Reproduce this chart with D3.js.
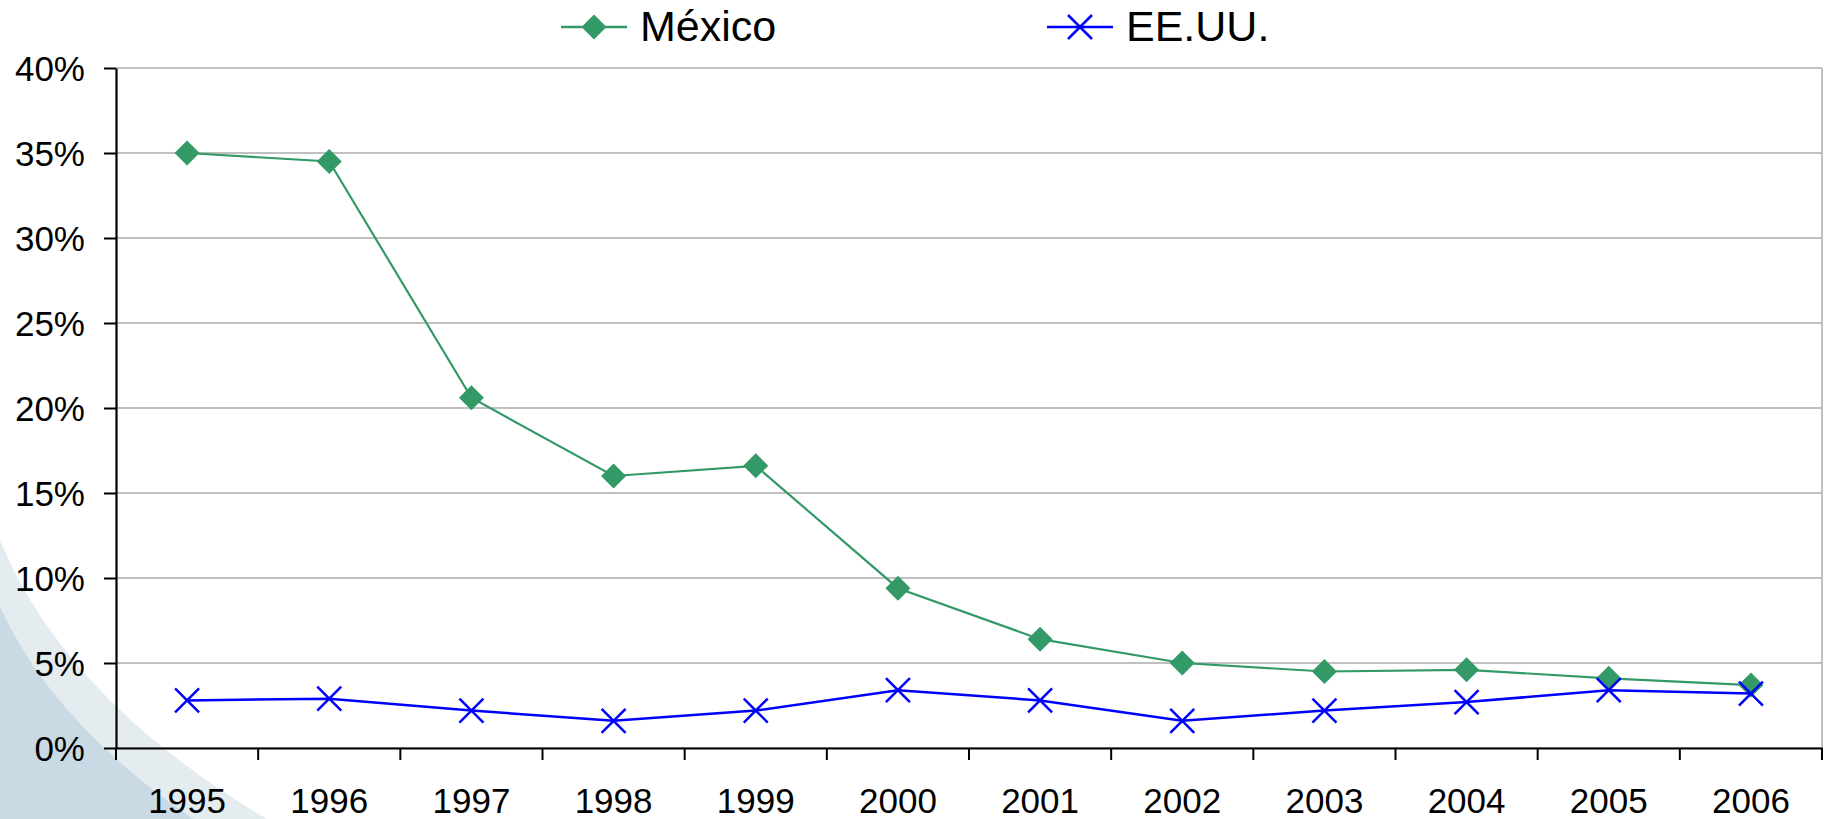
<!DOCTYPE html>
<html>
<head>
<meta charset="utf-8">
<script src="https://cdn.jsdelivr.net/npm/d3@7"></script>
<style>
	body { margin: 0; background: #fff; }
	svg { display: block; font-family: "Liberation Sans", Arial, sans-serif; }
</style>
</head>
<body>
<svg id="chart" width="1827" height="819"></svg>
<script>

var years = ["1995", "1996", "1997", "1998", "1999", "2000", "2001", "2002", "2003", "2004", "2005", "2006"];
var mexico = [0.350, 0.345, 0.206, 0.160, 0.166, 0.094, 0.064, 0.050, 0.045, 0.046, 0.041, 0.037];
var eeuu = [0.028, 0.029, 0.022, 0.016, 0.022, 0.034, 0.028, 0.016, 0.022, 0.027, 0.034, 0.032];
var yTicks = [0, 0.05, 0.10, 0.15, 0.20, 0.25, 0.30, 0.35, 0.40];
var seriesNames = ["México", "EE.UU."];

var svg = d3.select("#chart"),
	plotLeft = 116, plotRight = 1822, plotTop = 68, plotBottom = 748;

var x = d3.scaleBand().domain(years).range([plotLeft, plotRight]);
var y = d3.scaleLinear().domain([0, 0.4]).range([plotBottom, plotTop]);

// background swoosh, bottom left
var light = d3.path();
light.moveTo(0, 540);
light.quadraticCurveTo(66, 700, 267, 819);
light.lineTo(0, 819);
light.closePath();
svg.append("path").attr("d", light.toString()).attr("fill", "#e4ecf0");

var dark = d3.path();
dark.moveTo(0, 607);
dark.quadraticCurveTo(53, 723, 193, 819);
dark.lineTo(0, 819);
dark.closePath();
svg.append("path").attr("d", dark.toString()).attr("fill", "#c9dae4");

// gridlines
svg.append("g")
	.selectAll("line")
	.data(yTicks)
	.enter()
	.append("line")
	.attr("x1", plotLeft)
	.attr("x2", plotRight)
	.attr("y1", function(d) { return y(d); })
	.attr("y2", function(d) { return y(d); })
	.attr("stroke", "#c0c0c0")
	.attr("stroke-width", 2);

svg.append("line")
	.attr("x1", plotRight).attr("x2", plotRight)
	.attr("y1", plotTop).attr("y2", plotBottom)
	.attr("stroke", "#c0c0c0")
	.attr("stroke-width", 2);

// y axis
var yAxis = svg.append("g")
	.attr("transform", "translate(" + plotLeft + ",0)")
	.call(d3.axisLeft(y)
		.tickValues(yTicks)
		.tickFormat(d3.format(".0%"))
		.tickSize(12)
		.tickSizeOuter(0)
		.tickPadding(19));

// x axis - labels centred, ticks on the band edges
var xAxis = svg.append("g")
	.attr("transform", "translate(0," + plotBottom + ")")
	.call(d3.axisBottom(x)
		.tickSize(0)
		.tickSizeOuter(0)
		.tickPadding(40));

svg.append("g")
	.selectAll("line")
	.data(years.map(function(d) { return x(d); }).concat([plotRight]))
	.enter()
	.append("line")
	.attr("x1", function(d) { return d; })
	.attr("x2", function(d) { return d; })
	.attr("y1", plotBottom)
	.attr("y2", plotBottom + 12)
	.attr("stroke", "#000")
	.attr("stroke-width", 2);

[yAxis, xAxis].forEach(function(g) {
	g.selectAll(".domain").attr("stroke", "#000").attr("stroke-width", 2.2);
	g.selectAll(".tick line").attr("stroke", "#000").attr("stroke-width", 2);
	g.selectAll(".tick text")
		.attr("fill", "#000")
		.style("font-family", "'Liberation Sans', Arial, sans-serif")
		.style("font-size", "35px");
});
yAxis.selectAll(".tick text").attr("dy", "0.35em");

// markers
var diamond = {
	draw: function(ctx, size) {
		var r = Math.sqrt(size) / 2;
		ctx.moveTo(0, -r);
		ctx.lineTo(r, 0);
		ctx.lineTo(0, r);
		ctx.lineTo(-r, 0);
		ctx.closePath();
	}
};
var cross = {
	draw: function(ctx, size) {
		var r = Math.sqrt(size) / 2;
		ctx.moveTo(-r, -r);
		ctx.lineTo(r, r);
		ctx.moveTo(-r, r);
		ctx.lineTo(r, -r);
	}
};

var cx = function(d, i) { return x(years[i]) + x.bandwidth() / 2; };

var line = d3.line()
	.x(cx)
	.y(function(d) { return y(d); });

// México
svg.append("path")
	.attr("d", line(mexico))
	.attr("fill", "none")
	.attr("stroke", "#339966")
	.attr("stroke-width", 2.2);

svg.append("g")
	.selectAll("path")
	.data(mexico)
	.enter()
	.append("path")
	.attr("transform", function(d, i) { return "translate(" + cx(d, i) + "," + y(d) + ")"; })
	.attr("d", d3.symbol().type(diamond).size(625))
	.attr("fill", "#339966");

// EE.UU.
svg.append("path")
	.attr("d", line(eeuu))
	.attr("fill", "none")
	.attr("stroke", "#0000ff")
	.attr("stroke-width", 2.5);

svg.append("g")
	.selectAll("path")
	.data(eeuu)
	.enter()
	.append("path")
	.attr("transform", function(d, i) { return "translate(" + cx(d, i) + "," + y(d) + ")"; })
	.attr("d", d3.symbol().type(cross).size(576))
	.attr("fill", "none")
	.attr("stroke", "#0000ff")
	.attr("stroke-width", 2.5);

// legend
var legendItems = [
	{ name: seriesNames[0], x: 561, color: "#339966", symbol: diamond, size: 625, filled: true },
	{ name: seriesNames[1], x: 1047, color: "#0000ff", symbol: cross, size: 576, filled: false }
];

var legend = svg.append("g")
	.selectAll("g")
	.data(legendItems)
	.enter()
	.append("g")
	.attr("transform", function(d) { return "translate(" + d.x + ",27)"; });

legend.append("line")
	.attr("x1", 0).attr("x2", 66)
	.attr("y1", 0).attr("y2", 0)
	.attr("stroke", function(d) { return d.color; })
	.attr("stroke-width", 2.5);

legend.append("path")
	.attr("transform", "translate(33,0)")
	.attr("d", function(d) { return d3.symbol().type(d.symbol).size(d.size)(); })
	.attr("fill", function(d) { return d.filled ? d.color : "none"; })
	.attr("stroke", function(d) { return d.filled ? "none" : d.color; })
	.attr("stroke-width", 2.5);

legend.append("text")
	.attr("x", 79)
	.attr("y", 14)
	.attr("font-size", "43px")
	.attr("fill", "#000")
	.text(function(d) { return d.name; });

</script>
</body>
</html>
